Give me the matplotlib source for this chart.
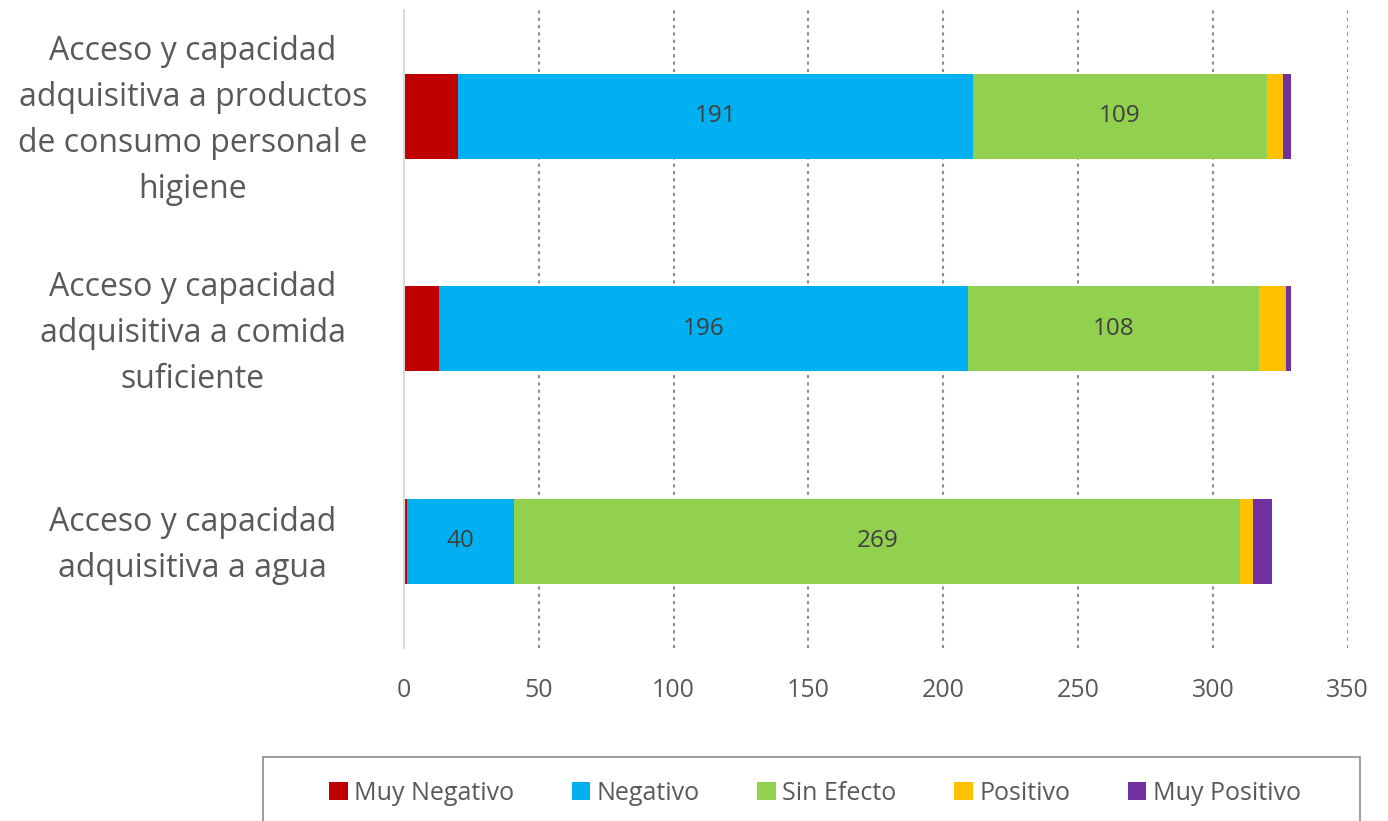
import matplotlib.pyplot as plt
from matplotlib.patches import Rectangle
from matplotlib.transforms import ScaledTranslation
import numpy as np

plt.rcParams['font.family'] = ['Open Sans', 'DejaVu Sans']

# categorías (de abajo hacia arriba)
categorias = [
    "Acceso y capacidad\nadquisitiva a agua",
    "Acceso y capacidad\nadquisitiva a comida\nsuficiente",
    "Acceso y capacidad\nadquisitiva a productos\nde consumo personal e\nhigiene",
]
series = ["Muy Negativo", "Negativo", "Sin Efecto", "Positivo", "Muy Positivo"]
muy_negativo = [1, 13, 20]
negativo = [40, 196, 191]
sin_efecto = [269, 108, 109]
positivo = [5, 10, 6]
muy_positivo = [7, 2, 3]

colores = ['#C00000', '#00B0F0', '#92D050', '#FFC000', '#7030A0']
gris = '#595959'

fig = plt.figure(figsize=(13.88, 8.21), dpi=100)
ax = fig.add_axes([0.291, 0.211, 0.680, 0.777])

y = np.arange(len(categorias))
izq = np.zeros(len(categorias))
valores = [muy_negativo, negativo, sin_efecto, positivo, muy_positivo]
for nombre, vals, col in zip(series, valores, colores):
    barras = ax.barh(y, vals, left=izq, height=0.4, color=col, label=nombre)
    if nombre in ("Negativo", "Sin Efecto"):
        ax.bar_label(barras, label_type='center', fontsize=17.5, color='#404040')
    izq += np.array(vals)

ax.set_xlim(0, 350)
ax.set_ylim(-0.5, 2.5)
ax.set_xticks(range(0, 351, 50))
ax.set_yticks(y)
ax.set_yticklabels(categorias, fontsize=23, color=gris, ha='center', linespacing=1.52)
ax.tick_params(axis='y', length=0, pad=152)
ax.tick_params(axis='x', length=0, labelsize=18, labelcolor=gris, pad=22)
# subir un poco las etiquetas de categoría
for etiqueta in ax.get_yticklabels():
    etiqueta.set_transform(etiqueta.get_transform() + ScaledTranslation(0, 0.06, fig.dpi_scale_trans))

ax.grid(axis='x', linestyle=(0, (1.5, 2)), color='#8c8c8c', linewidth=1.5)
ax.set_axisbelow(True)
for lado in ['top', 'right', 'bottom']:
    ax.spines[lado].set_visible(False)
ax.spines['left'].set_color('#d9d9d9')
ax.spines['left'].set_linewidth(1.5)
ax.xaxis.get_gridlines()[0].set_visible(False)

# leyenda sin marco, con un rectángulo dibujado aparte
leg = fig.legend(loc='center', bbox_to_anchor=(0.587, 0.034), ncol=5,
                 fontsize=18, frameon=False,
                 handlelength=0.75, handleheight=0.75, handletextpad=0.25,
                 columnspacing=2.3, labelcolor=gris)
marco = Rectangle((263 / 1388, -0.05), (1360 - 263) / 1388, 0.05 + (821 - 757) / 821,
                  transform=fig.transFigure, fill=False, edgecolor='#8c8c8c',
                  linewidth=1.2, clip_on=False)
fig.patches.append(marco)

fig.savefig('out.png', dpi=100)
